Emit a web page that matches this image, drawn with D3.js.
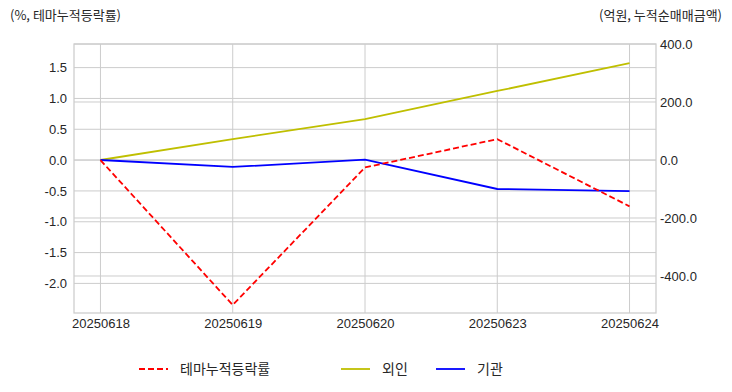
<!DOCTYPE html>
<html>
<head>
<meta charset="utf-8">
<script src="https://cdn.jsdelivr.net/npm/d3@7"></script>
<style>
  body { margin: 0; background: #fff; }
  svg text { font-family: "Liberation Sans", Arial, "Noto Sans CJK KR", sans-serif; fill: #262626; }
  .ko { font-family: "Noto Sans CJK KR", "Liberation Sans", sans-serif; }
</style>
</head>
<body>
<svg id="chart" width="732" height="392"></svg>
<script>
// Data
const dates = ["20250618", "20250619", "20250620", "20250623", "20250624"];
const themeRate = [0, -2.35, -0.12, 0.34, -0.75];     // left axis (%)
const foreign = [0, 72, 141, 238, 334];                // right axis (억원)
const institution = [0, -24, 1, -100, -107];          // right axis (억원)
const leftTicks = [-2.0, -1.5, -1.0, -0.5, 0.0, 0.5, 1.0, 1.5];
const rightTicks = [-400, -200, 0, 200, 400];

const svg = d3.select("#chart");
const margin = { left: 74, right: 76, top: 44, bottom: 79 };
const W = 732, H = 392;
const x0 = margin.left, x1 = W - margin.right;
const y0 = margin.top, y1 = H - margin.bottom;

// Scales
const x = d3.scalePoint().domain(dates).range([x0, x1]).padding(0.2);
const yL = d3.scaleLinear().domain([-2.48, 1.883]).range([y1, y0]);
const yR = d3.scaleLinear().domain([-527.6, 400]).range([y1, y0]);

const gridColor = "#cccccc";
const fmt = d => d3.format(".1f")(d).replace("\u2212", "-");

// Gridlines: x
svg.append("g").selectAll("line").data(dates).join("line")
  .attr("x1", d => x(d)).attr("x2", d => x(d))
  .attr("y1", y0).attr("y2", y1)
  .attr("stroke", gridColor).attr("stroke-width", 1);

// Gridlines: left y
svg.append("g").selectAll("line").data(leftTicks).join("line")
  .attr("x1", x0).attr("x2", x1)
  .attr("y1", d => yL(d)).attr("y2", d => yL(d))
  .attr("stroke", gridColor).attr("stroke-width", 1);

// Gridlines: right y
svg.append("g").selectAll("line").data(rightTicks).join("line")
  .attr("x1", x0).attr("x2", x1)
  .attr("y1", d => yR(d)).attr("y2", d => yR(d))
  .attr("stroke", gridColor).attr("stroke-width", 1);

// Frame
svg.append("rect")
  .attr("x", x0).attr("y", y0).attr("width", x1 - x0).attr("height", y1 - y0)
  .attr("fill", "none").attr("stroke", gridColor).attr("stroke-width", 1.25);

// Axes (labels only, matplotlib whitegrid style)
const axL = d3.axisLeft(yL).tickValues(leftTicks).tickFormat(fmt).tickSize(0).tickPadding(7);
const axR = d3.axisRight(yR).tickValues(rightTicks).tickFormat(fmt).tickSize(0).tickPadding(4);
const axB = d3.axisBottom(x).tickSize(0).tickPadding(6);

function styleAxis(g) {
  g.select(".domain").remove();
  g.selectAll("text").attr("font-size", 13).style("fill", "#262626")
    .attr("font-family", "Liberation Sans, Arial, sans-serif");
}
svg.append("g").attr("transform", `translate(${x0},0)`).call(axL).call(styleAxis);
svg.append("g").attr("transform", `translate(${x1},0)`).call(axR).call(styleAxis);
svg.append("g").attr("transform", `translate(0,${y1})`).call(axB).call(styleAxis);

// Lines
const lineL = d3.line().x((d, i) => x(dates[i])).y(d => yL(d));
const lineR = d3.line().x((d, i) => x(dates[i])).y(d => yR(d));

svg.append("path").datum(foreign).attr("d", lineR)
  .attr("fill", "none").attr("stroke", "#bfbf00").attr("stroke-width", 1.8);
svg.append("path").datum(institution).attr("d", lineR)
  .attr("fill", "none").attr("stroke", "#0000ff").attr("stroke-width", 1.8);
svg.append("path").datum(themeRate).attr("d", lineL)
  .attr("fill", "none").attr("stroke", "#ff0000").attr("stroke-width", 1.8)
  .attr("stroke-dasharray", "6,3");

// Axis titles
svg.append("text").attr("class", "ko").attr("x", 10).attr("y", 20)
  .attr("font-size", 13).text("(%, 테마누적등락률)");
svg.append("text").attr("class", "ko").attr("x", 722).attr("y", 20)
  .attr("text-anchor", "end").attr("font-size", 13).text("(억원, 누적순매매금액)");

// Legend
const legend = [
  { name: "테마누적등락률", color: "#ff0000", dash: "6,3", x: 139 },
  { name: "외인", color: "#bfbf00", dash: null, x: 341 },
  { name: "기관", color: "#0000ff", dash: null, x: 436 }
];
const lg = svg.append("g").selectAll("g").data(legend).join("g")
  .attr("transform", d => `translate(${d.x},369)`);
lg.append("line").attr("x1", 0).attr("x2", 29).attr("y1", 0).attr("y2", 0)
  .attr("stroke", d => d.color).attr("stroke-width", 1.8)
  .attr("stroke-dasharray", d => d.dash);
lg.append("text").attr("class", "ko").attr("x", 41).attr("y", 5)
  .attr("font-size", 14).text(d => d.name);
</script>
</body>
</html>
